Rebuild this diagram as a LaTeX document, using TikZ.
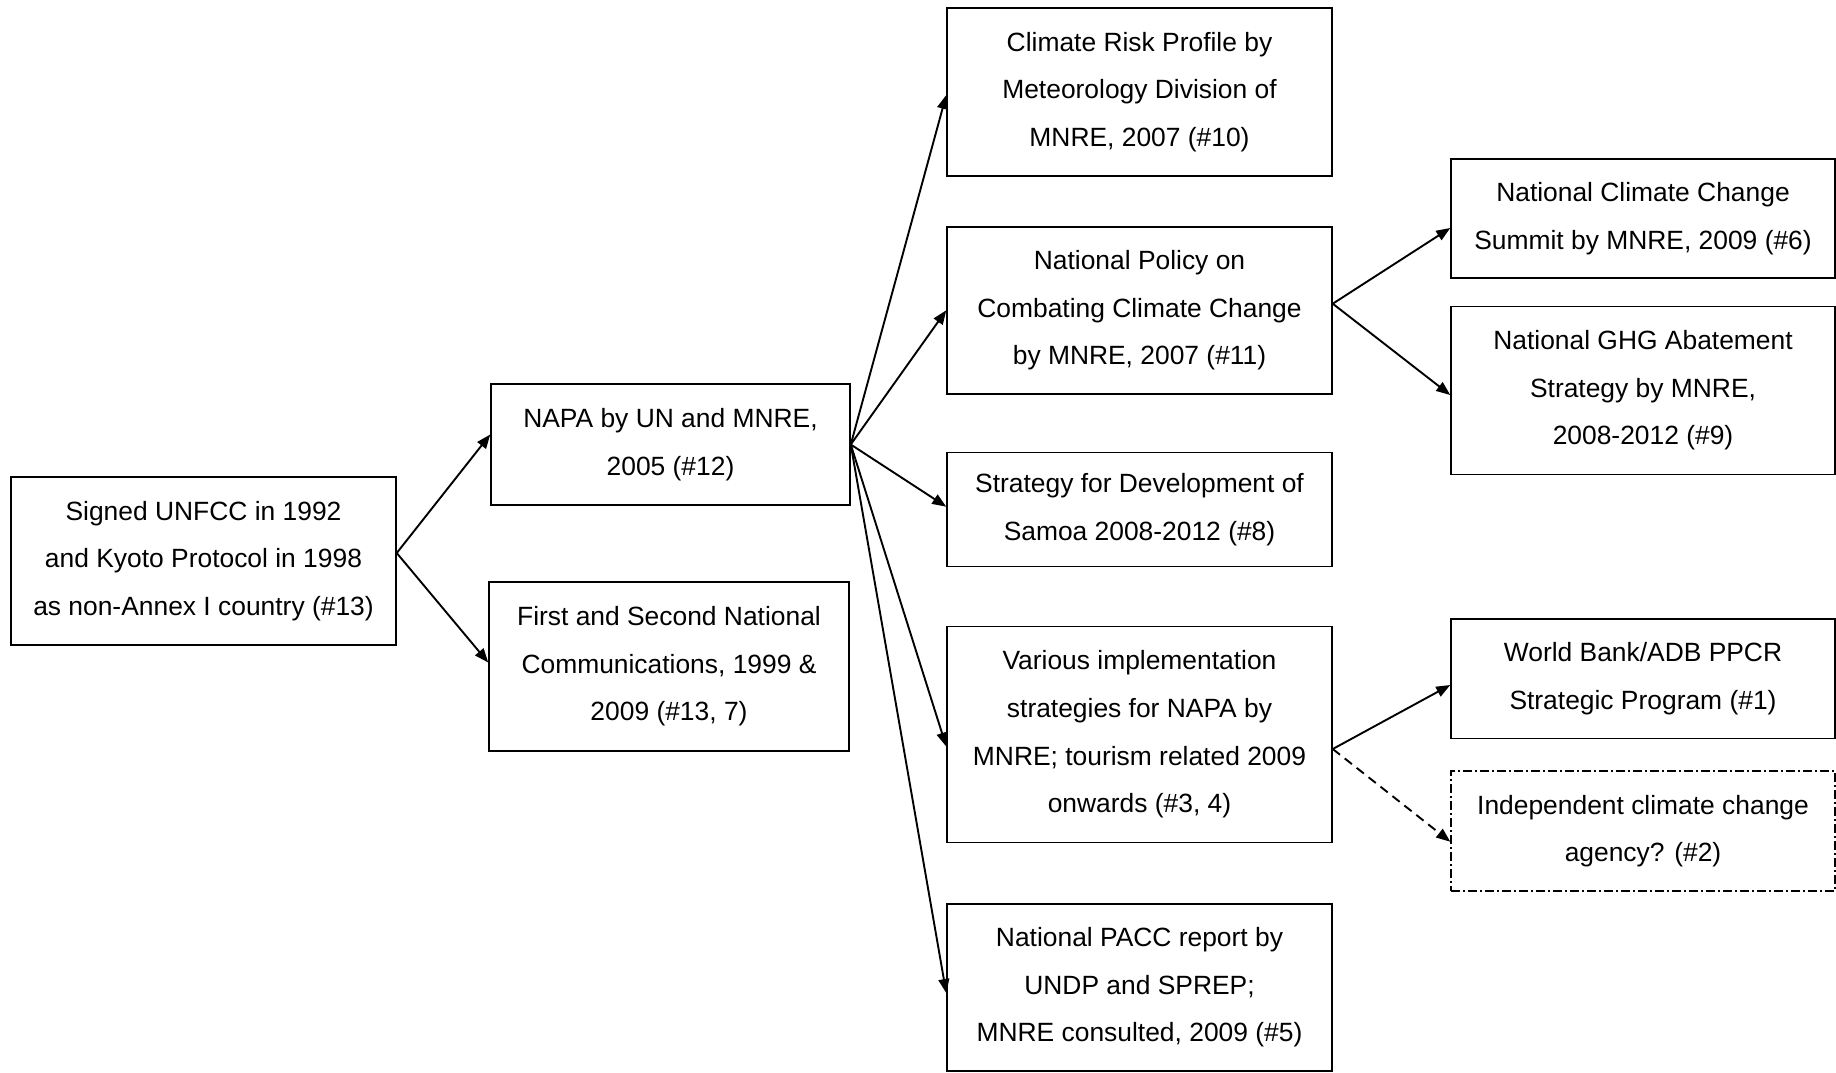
\documentclass[tikz,border=0pt]{standalone}
\usepackage{fontspec}
\setmainfont{Liberation Sans}
\usetikzlibrary{arrows.meta}
\tikzset{
  box/.style={draw=black, line width=0.75pt, rectangle, inner sep=0pt, align=center,
    font=\fontsize{13.2pt}{23.8pt}\selectfont},
  dashbox/.style={box, dash pattern=on 4.5pt off 1.6pt on 0.8pt off 1.6pt},
  conn/.style={line width=0.95pt, -{Triangle[length=7pt,width=5.4pt]}},
  dconn/.style={conn, dash pattern=on 4.6pt off 3pt}
}
\begin{document}
\begin{tikzpicture}[x=0.5pt, y=-0.5pt]
\useasboundingbox (0,0) rectangle (1836,1072);
\node[box, minimum width=192.5pt, minimum height=84pt] (A) at (203.5,561)
  {Signed UNFCC in 1992\\and Kyoto Protocol in 1998\\as non-Annex I country (\#13)};
\node[box, minimum width=179.5pt, minimum height=60.5pt] (B) at (670.5,444.5)
  {NAPA by UN and MNRE,\\2005 (\#12)};
\node[box, minimum width=180pt, minimum height=84.5pt] (C) at (669,666.5)
  {First and Second National\\Communications, 1999 \&\\2009 (\#13, 7)};
\node[box, minimum width=192.5pt, minimum height=84pt] (D) at (1139.5,92)
  {Climate Risk Profile by\\Meteorology Division of\\MNRE, 2007 (\#10)};
\node[box, minimum width=192.5pt, minimum height=83.5pt] (E) at (1139.5,310.3)
  {National Policy on\\Combating Climate Change\\by MNRE, 2007 (\#11)};
\node[box, minimum width=192.5pt, minimum height=57pt] (F) at (1139.5,509.7)
  {Strategy for Development of\\Samoa 2008-2012 (\#8)};
\node[box, minimum width=192.5pt, minimum height=107.8pt] (G) at (1139.5,734.5)
  {Various implementation\\strategies for NAPA by\\MNRE; tourism related 2009\\onwards (\#3, 4)};
\node[box, minimum width=192.5pt, minimum height=83.5pt] (H) at (1139.5,987.5)
  {National PACC report by\\UNDP and SPREP;\\MNRE consulted, 2009 (\#5)};
\node[box, minimum width=192pt, minimum height=59.5pt] (I) at (1643,218.5)
  {National Climate Change\\Summit by MNRE, 2009 (\#6)};
\node[box, minimum width=192pt, minimum height=83.8pt] (J) at (1643,390.5)
  {National GHG Abatement\\Strategy by MNRE,\\2008-2012 (\#9)};
\node[box, minimum width=192pt, minimum height=59.6pt] (K) at (1643,678.7)
  {World Bank/ADB PPCR\\Strategic Program (\#1)};
\node[dashbox, minimum width=192pt, minimum height=60pt] (L) at (1643,831)
  {Independent climate change\\agency? (\#2)};

\draw[conn] ([yshift=4pt]A.east) -- ([yshift=5pt]B.west);
\draw[conn] ([yshift=4pt]A.east) -- ([yshift=2pt]C.west);
\draw[conn] (B.east) -- ([yshift=-1.5pt]D.west);
\draw[conn] (B.east) -- (E.west);
\draw[conn] (B.east) -- ([yshift=1.5pt]F.west);
\draw[conn] (B.east) -- ([yshift=-6pt]G.west);
\draw[conn] (B.east) -- ([yshift=-2.75pt]H.west);
\draw[conn] ([yshift=3.3pt]E.east) -- ([yshift=-4.75pt]I.west);
\draw[conn] ([yshift=3.3pt]E.east) -- ([yshift=-2.25pt]J.west);
\draw[conn] ([yshift=-7.25pt]G.east) -- ([yshift=-3.15pt]K.west);
\draw[dconn] ([yshift=-7.25pt]G.east) -- ([yshift=-5.35pt]L.west);
\end{tikzpicture}
\end{document}
